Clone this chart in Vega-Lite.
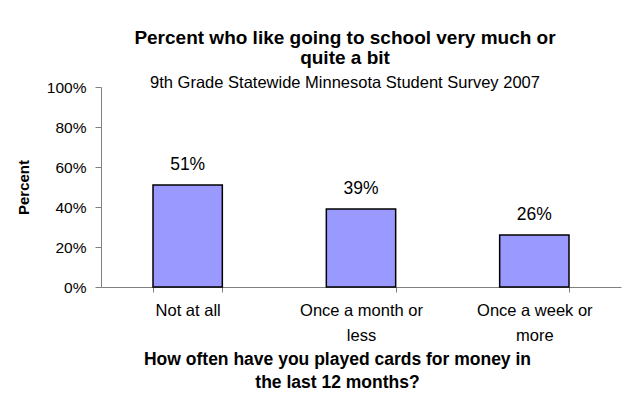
{
  "$schema": "https://vega.github.io/schema/vega-lite/v6.json",
  "width": 520,
  "height": 200,
  "autosize": "none",
  "padding": {"left": 101, "top": 87, "right": 13, "bottom": 117},
  "background": "white",
  "config": {
    "font": "Liberation Sans",
    "view": {"stroke": null}
  },
  "title": {
    "text": ["Percent who like going to school very much or", "quite a bit"],
    "subtitle": "9th Grade Statewide Minnesota Student Survey 2007",
    "fontSize": 19,
    "fontWeight": "bold",
    "lineHeight": 20,
    "color": "black",
    "subtitleFontSize": 16.5,
    "subtitleColor": "black",
    "subtitlePadding": 7,
    "anchor": "middle",
    "dx": -16,
    "offset": -11
  },
  "data": {
    "values": [
      {"freq": "Not at all", "pct": 0.51},
      {"freq": "Once a month or less", "pct": 0.39},
      {"freq": "Once a week or more", "pct": 0.26}
    ]
  },
  "encoding": {
    "x": {
      "field": "freq",
      "type": "nominal",
      "sort": null,
      "scale": {"paddingInner": 0.6, "paddingOuter": 0.3},
      "axis": {
        "title": ["How often have you played cards for money in", "the last 12 months?"],
        "titleFontSize": 17.5,
        "titleFontWeight": "bold",
        "titleLineHeight": 23,
        "titleColor": "black",
        "titleX": 236,
        "titlePadding": 7,
        "labelAngle": 0,
        "labelFontSize": 16.5,
        "labelColor": "black",
        "labelLineHeight": 25,
        "labelPadding": 10,
        "labelExpr": "datum.value == 'Once a month or less' ? ['Once a month or', 'less'] : datum.value == 'Once a week or more' ? ['Once a week or', 'more'] : datum.value",
        "tickBand": "extent",
        "tickSize": 5,
        "tickColor": "#808080",
        "domainColor": "#808080",
        "grid": false
      }
    },
    "y": {
      "field": "pct",
      "type": "quantitative",
      "scale": {"domain": [0, 1]},
      "axis": {
        "title": "Percent",
        "titleFontSize": 15,
        "titleFontWeight": "bold",
        "titleColor": "black",
        "titlePadding": 15,
        "values": [0, 0.2, 0.4, 0.6, 0.8, 1],
        "format": ".0%",
        "labelFontSize": 15.5,
        "labelColor": "black",
        "labelPadding": 9,
        "tickSize": 6,
        "tickColor": "#808080",
        "domainColor": "#808080",
        "grid": false
      }
    }
  },
  "layer": [
    {
      "mark": {"type": "bar", "fill": "#9999FF", "stroke": "black", "strokeWidth": 1.5}
    },
    {
      "mark": {"type": "text", "baseline": "alphabetic", "dy": -15, "fontSize": 17.5, "color": "black"},
      "encoding": {
        "text": {"field": "pct", "type": "quantitative", "format": ".0%"}
      }
    }
  ]
}
